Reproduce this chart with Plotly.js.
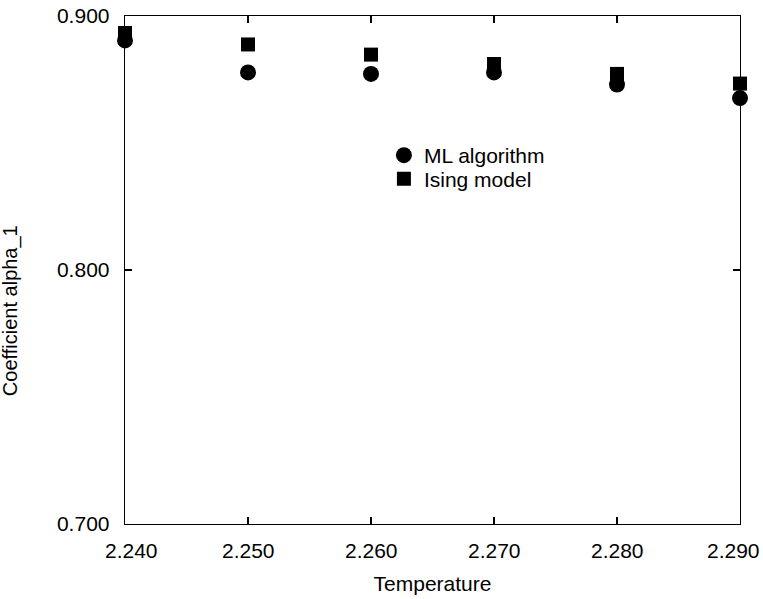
<!DOCTYPE html>
<html>
<head>
<meta charset="utf-8">
<script src="https://cdn.plot.ly/plotly-3.0.1.min.js"></script>
<style>html,body{margin:0;padding:0;background:#fff;}#chart{width:763px;height:599px;}</style>
</head>
<body>
<div id="chart"></div>
<script>
var temperature = [2.240, 2.250, 2.260, 2.270, 2.280, 2.290];
var mlAlgorithm = [0.8904, 0.8778, 0.8772, 0.8778, 0.8730, 0.8677];
var isingModel  = [0.8933, 0.8888, 0.8848, 0.8811, 0.8772, 0.8734];
var xTicks = [2.240, 2.250, 2.260, 2.270, 2.280, 2.290];
var xTickLabels = ['2.240', '2.250', '2.260', '2.270', '2.280', '2.290'];
var yTicks = [0.700, 0.800, 0.900];

var FONT = 'Liberation Sans, Arial, Helvetica, sans-serif';
var BLACK = '#000';

var traces = [
  {
    x: temperature, y: isingModel, name: 'Ising model', legend: 'legend2',
    type: 'scatter', mode: 'markers', cliponaxis: false,
    marker: {symbol: 'square', size: 14, color: BLACK}
  },
  {
    x: temperature, y: mlAlgorithm, name: 'ML algorithm', legend: 'legend',
    type: 'scatter', mode: 'markers', cliponaxis: false,
    marker: {symbol: 'circle', size: 16, color: BLACK}
  }
];

// x tick labels as annotations so the edge labels can sit inside the figure like the original
var annotations = xTicks.map(function (v, i) {
  var shift = 0;
  if (i === 0) shift = 6;
  if (i === xTicks.length - 1) shift = -7;
  return {
    x: v, xref: 'x', y: 0, yref: 'paper',
    xanchor: 'center', yanchor: 'top', yshift: -13, xshift: shift,
    text: xTickLabels[i], showarrow: false,
    font: {family: FONT, size: 21, color: BLACK}
  };
});
annotations.push({
  x: -0.187, xref: 'paper', y: 0.421, yref: 'paper',
  xanchor: 'center', yanchor: 'middle', textangle: -90,
  text: 'Coefficient alpha_1', showarrow: false,
  font: {family: FONT, size: 20, color: BLACK}
});

var legendStyle = function (y) {
  return {
    x: 0.421, y: y, xanchor: 'left', yanchor: 'top',
    bgcolor: 'rgba(0,0,0,0)', borderwidth: 0,
    font: {family: FONT, size: 21, color: BLACK}
  };
};

var layout = {
  width: 763, height: 599,
  margin: {l: 125, r: 23, t: 16, b: 75},
  paper_bgcolor: '#fff', plot_bgcolor: '#fff',
  font: {family: FONT, size: 21, color: BLACK},
  showlegend: true,
  legend: legendStyle(0.7657),
  legend2: legendStyle(0.7195),
  annotations: annotations,
  xaxis: {
    range: [2.2399999, 2.2900001], tickvals: xTicks, showticklabels: false,
    showgrid: false, zeroline: false,
    showline: true, linecolor: BLACK, linewidth: 1.3, mirror: 'ticks',
    ticks: 'inside', ticklen: 7, tickwidth: 1.3, tickcolor: BLACK,
    title: {text: 'Temperature', standoff: 52, font: {family: FONT, size: 21, color: BLACK}},
    automargin: false
  },
  yaxis: {
    range: [0.700, 0.900], tickvals: yTicks, tickformat: '.3f',
    showgrid: false, zeroline: false,
    showline: true, linecolor: BLACK, linewidth: 1.3, mirror: 'ticks',
    ticks: 'inside', ticklen: 7, tickwidth: 1.3, tickcolor: BLACK,
    ticklabelstandoff: 10,
    tickfont: {family: FONT, size: 21, color: BLACK},
    automargin: false
  }
};

Plotly.newPlot('chart', traces, layout, {displayModeBar: false, staticPlot: true});
</script>
</body>
</html>
